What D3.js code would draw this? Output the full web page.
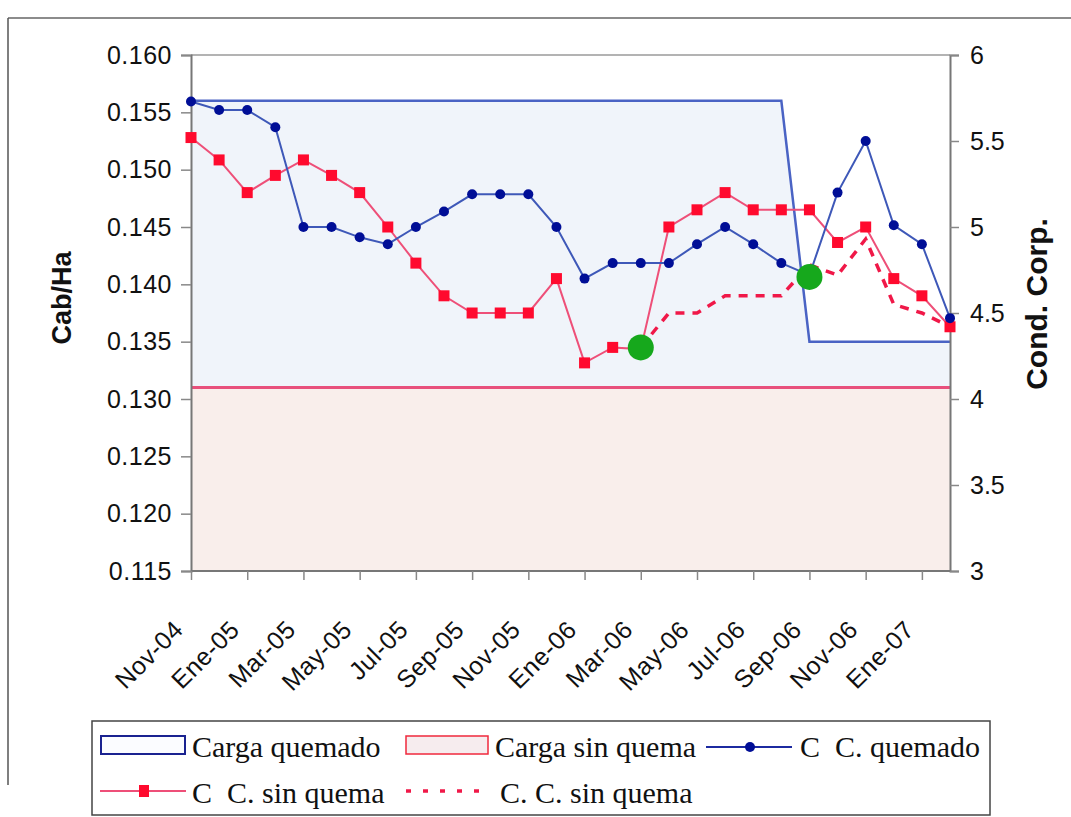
<!DOCTYPE html>
<html>
<head>
<meta charset="utf-8">
<script src="https://cdn.jsdelivr.net/npm/d3@7"></script>
<style>
  html, body { margin: 0; padding: 0; background: #ffffff; }
  svg { display: block; }
</style>
</head>
<body>
<svg id="chart" width="1071" height="817"></svg>
<script>
// Monthly categories, Nov-04 .. Feb-07
const months = ["Nov-04","Dic-04","Ene-05","Feb-05","Mar-05","Abr-05","May-05","Jun-05",
  "Jul-05","Ago-05","Sep-05","Oct-05","Nov-05","Dic-05","Ene-06","Feb-06","Mar-06","Abr-06",
  "May-06","Jun-06","Jul-06","Ago-06","Sep-06","Oct-06","Nov-06","Dic-06","Ene-07","Feb-07"];

// Stocking rate (Cab/Ha, left axis)
const cargaQuemado = [0.156,0.156,0.156,0.156,0.156,0.156,0.156,0.156,0.156,0.156,0.156,0.156,
  0.156,0.156,0.156,0.156,0.156,0.156,0.156,0.156,0.156,0.156,0.135,0.135,0.135,0.135,0.135,0.135];
const cargaSinQuema = [0.131,0.131,0.131,0.131,0.131,0.131,0.131,0.131,0.131,0.131,0.131,0.131,
  0.131,0.131,0.131,0.131,0.131,0.131,0.131,0.131,0.131,0.131,0.131,0.131,0.131,0.131,0.131,0.131];

// Body condition (Cond. Corp., right axis)
const ccQuemado = [5.73,5.68,5.68,5.58,5.0,5.0,4.94,4.9,5.0,5.09,5.19,5.19,5.19,5.0,4.7,4.79,
  4.79,4.79,4.9,5.0,4.9,4.79,4.72,5.2,5.5,5.01,4.9,4.47];
const ccSinQuema = [5.52,5.39,5.2,5.3,5.39,5.3,5.2,5.0,4.79,4.6,4.5,4.5,4.5,4.7,4.21,4.3,
  4.29,5.0,5.1,5.2,5.1,5.1,5.1,4.91,5.0,4.7,4.6,4.42];
// Second "sin quema" trace, from Mar-06 onward
const ccSinQuema2 = [null,null,null,null,null,null,null,null,null,null,null,null,null,null,null,null,
  4.3,4.5,4.5,4.6,4.6,4.6,4.78,4.72,4.93,4.55,4.5,4.42];

// Highlighted points
const hiMonths = ["Mar-06","Sep-06"];
const hiValues = [4.3,4.71];

const leftTicks = [0.115,0.120,0.125,0.130,0.135,0.140,0.145,0.150,0.155,0.160];
const rightTicks = [3,3.5,4,4.5,5,5.5,6];
const xTickLabels = months.filter((d,i) => i % 2 === 0);

const svg = d3.select("#chart");
const L = 191, R = 950, T = 55, B = 571;

const x = d3.scalePoint().domain(months).range([L, R]);
const yL = d3.scaleLinear().domain([0.115, 0.160]).range([B, T]);
const yR = d3.scaleLinear().domain([3, 6]).range([B, T]);

// outer frame
svg.append("line").attr("x1", 8).attr("x2", 1071).attr("y1", 18).attr("y2", 18)
  .attr("stroke", "#666").attr("stroke-width", 1.5);
svg.append("line").attr("x1", 8).attr("x2", 8).attr("y1", 18).attr("y2", 785)
  .attr("stroke", "#555").attr("stroke-width", 1.5);

// areas
const areaL = d3.area().x((d,i) => x(months[i])).y0(yL(0.115)).y1(d => yL(d));
const lineL = d3.line().x((d,i) => x(months[i])).y(d => yL(d));

svg.append("path").datum(cargaQuemado).attr("d", areaL).attr("fill", "#f0f4fa");
svg.append("path").datum(cargaSinQuema).attr("d", areaL).attr("fill", "#f9eeeb");
svg.append("path").datum(cargaQuemado).attr("d", lineL)
  .attr("fill", "none").attr("stroke", "#4a63c4").attr("stroke-width", 2.5);
svg.append("path").datum(cargaSinQuema).attr("d", lineL)
  .attr("fill", "none").attr("stroke", "#e8507c").attr("stroke-width", 3);

// plot top border
svg.append("line").attr("x1", L).attr("x2", R).attr("y1", T).attr("y2", T)
  .attr("stroke", "#9a9a9a").attr("stroke-width", 1.5);

// axes
const fontAxis = "'Liberation Sans', Arial, sans-serif";
const gL = svg.append("g").attr("transform", `translate(${L},0)`)
  .call(d3.axisLeft(yL).tickValues(leftTicks).tickSize(10).tickPadding(9)
    .tickFormat(d3.format(".3f")));
const gR = svg.append("g").attr("transform", `translate(${R},0)`)
  .call(d3.axisRight(yR).tickValues(rightTicks).tickSize(9).tickPadding(11)
    .tickFormat(d => String(d)));
const gB = svg.append("g").attr("transform", `translate(0,${B})`)
  .call(d3.axisBottom(x).tickValues(xTickLabels).tickSize(9).tickFormat(d => d));

[gL, gR, gB].forEach(g => {
  g.select(".domain").attr("stroke", "#777").attr("stroke-width", 2);
  g.selectAll(".tick line").attr("stroke", "#888").attr("stroke-width", 1.5);
  g.selectAll("text").attr("fill", "#111").style("font-family", fontAxis).style("font-size", "25px");
});
gL.selectAll("text").style("letter-spacing", "0.5px");
gB.select(".domain").attr("d", `M${L},0H${R}`);
gB.selectAll("text")
  .attr("text-anchor", "end")
  .attr("dy", "0.35em")
  .attr("x", 0).attr("y", 0)
  .style("font-size", "25px")
  .style("letter-spacing", "0.5px")
  .attr("transform", "translate(-13,54) rotate(-45)");

// axis titles
svg.append("text").attr("transform", "translate(71,298) rotate(-90)")
  .attr("text-anchor", "middle").style("font-family", fontAxis).style("font-size", "27px")
  .style("font-weight", "bold").attr("fill", "#111").text("Cab/Ha");
svg.append("text").attr("transform", "translate(1047,304) rotate(-90)")
  .attr("text-anchor", "middle").style("font-family", fontAxis).style("font-size", "30px")
  .style("font-weight", "bold").attr("fill", "#111").text("Cond. Corp.");

// right-axis series
const lineR = d3.line().defined(d => d != null).x((d,i) => x(months[i])).y(d => yR(d));

svg.append("path").datum(ccSinQuema2).attr("d", lineR)
  .attr("fill", "none").attr("stroke", "#f01848").attr("stroke-width", 3.5)
  .attr("stroke-dasharray", "9,8");

svg.append("path").datum(ccSinQuema).attr("d", lineR)
  .attr("fill", "none").attr("stroke", "#ee4f78").attr("stroke-width", 2);
svg.append("g").selectAll("rect").data(ccSinQuema).join("rect")
  .attr("x", (d,i) => x(months[i]) - 5.5).attr("y", d => yR(d) - 5.5)
  .attr("width", 11).attr("height", 11).attr("fill", "#ff0a2e");

svg.append("path").datum(ccQuemado).attr("d", lineR)
  .attr("fill", "none").attr("stroke", "#3e58b8").attr("stroke-width", 2);
svg.append("g").selectAll("circle").data(ccQuemado).join("circle")
  .attr("cx", (d,i) => x(months[i])).attr("cy", d => yR(d)).attr("r", 5)
  .attr("fill", "#000e96");

svg.append("g").selectAll("circle").data(hiValues).join("circle")
  .attr("cx", (d,i) => x(hiMonths[i])).attr("cy", d => yR(d)).attr("r", 13)
  .attr("fill", "#16a81c");

// legend
const lg = svg.append("g");
lg.append("rect").attr("x", 92).attr("y", 721).attr("width", 898).attr("height", 94)
  .attr("fill", "#fff").attr("stroke", "#444").attr("stroke-width", 1.5);
const fontLeg = "'Liberation Serif', 'Times New Roman', serif";
function legText(px, py, s) {
  lg.append("text").attr("x", px).attr("y", py).text(s)
    .style("font-family", fontLeg).style("font-size", "30px").attr("fill", "#111")
    .style("white-space", "pre").attr("xml:space", "preserve");
}
lg.append("rect").attr("x", 101).attr("y", 736).attr("width", 84).attr("height", 18)
  .attr("fill", "#fbfcff").attr("stroke", "#1a2290").attr("stroke-width", 2);
legText(192, 757, "Carga quemado");
lg.append("rect").attr("x", 406).attr("y", 736).attr("width", 82).attr("height", 18)
  .attr("fill", "#f6ecee").attr("stroke", "#f0283c").attr("stroke-width", 1.5);
legText(495, 757, "Carga sin quema");
lg.append("line").attr("x1", 706).attr("x2", 792).attr("y1", 747).attr("y2", 747)
  .attr("stroke", "#1c2aa0").attr("stroke-width", 2);
lg.append("circle").attr("cx", 750).attr("cy", 747).attr("r", 5).attr("fill", "#000e96");
legText(800, 757, "C  C. quemado");

lg.append("line").attr("x1", 100).attr("x2", 186).attr("y1", 791).attr("y2", 791)
  .attr("stroke", "#ee4f78").attr("stroke-width", 2);
lg.append("rect").attr("x", 139).attr("y", 785).attr("width", 10).attr("height", 12).attr("fill", "#ff0a2e");
legText(192, 803, "C  C. sin quema");
lg.append("line").attr("x1", 406).attr("x2", 490).attr("y1", 791).attr("y2", 791)
  .attr("stroke", "#f01848").attr("stroke-width", 3.5).attr("stroke-dasharray", "5,12");
legText(500, 803, "C. C. sin quema");
</script>
</body>
</html>
